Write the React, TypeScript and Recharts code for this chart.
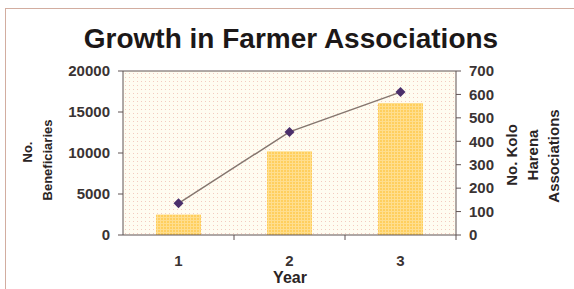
import { ComposedChart, Bar, Line, XAxis, YAxis, CartesianGrid, ReferenceLine } from 'recharts';

const years = ['1', '2', '3'];
const beneficiaries = [2500, 10200, 16100];
const associations = [135, 440, 610];
const leftTicks = [0, 5000, 10000, 15000, 20000];
const rightTicks = [0, 100, 200, 300, 400, 500, 600, 700];

const data = years.map((year, i) => ({
  year,
  beneficiaries: beneficiaries[i],
  associations: associations[i],
}));

const FONT = '"Liberation Sans", Arial, sans-serif';
const TICK_COLOR = '#3a3333';
const AXIS_COLOR = '#5e5252';

const W = 574;
const H = 289;
const LEFT_W = 123;
const RIGHT_W = 118;
const BAND = (W - LEFT_W - RIGHT_W) / years.length;

const YearTick = (props: any) => {
  const { x, y, payload } = props;
  return (
    <g>
      <line x1={x + BAND / 2} x2={x + BAND / 2} y1={y} y2={y + 5} stroke={AXIS_COLOR} />
      <text x={x} y={y + 25} textAnchor="middle" dominantBaseline="central"
        fontFamily={FONT} fontSize={15} fontWeight="bold" fill={TICK_COLOR}>
        {payload.value}
      </text>
    </g>
  );
};

const Diamond = (props: any) => {
  const { cx, cy } = props;
  if (cx == null || cy == null) return null;
  const r = 5;
  return <path d={`M${cx},${cy - r}L${cx + r},${cy}L${cx},${cy + r}L${cx - r},${cy}Z`} fill="#4b2f6b" />;
};

const tickStyle = { fontFamily: FONT, fontSize: 15, fontWeight: 'bold' as const, fill: TICK_COLOR };
const titleStyle = { fontFamily: FONT, fontWeight: 'bold' as const, fill: '#2a2424' };

export default function App() {
  return (
    <div style={{ position: 'absolute', left: 0, top: 0, width: W, height: H, background: '#fff', overflow: 'hidden' }}>
      <div style={{ position: 'absolute', left: 5, top: 8, right: 0, bottom: 0, borderTop: '1px solid #d2ada0', borderLeft: '1px solid #d2ada0' }} />
      <div style={{ position: 'absolute', left: 0, top: 0 }}>
        <ComposedChart width={W} height={H} data={data} margin={{ top: 71, right: 0, bottom: 0, left: 0 }}>
          <defs>
            <pattern id="bgDots" width="4" height="4" patternUnits="userSpaceOnUse">
              <rect width="4" height="4" fill="#fffcf1" />
              <rect x="1" y="1" width="1" height="1" fill="#f3cbc0" />
            </pattern>
            <pattern id="barDots" width="3" height="3" patternUnits="userSpaceOnUse">
              <rect width="3" height="3" fill="#ffcf5e" />
              <rect x="0" y="1" width="3" height="1" fill="#ffde8e" />
              <rect x="1" y="0" width="1" height="3" fill="#ffde8e" />
            </pattern>
          </defs>
          <CartesianGrid horizontal={false} vertical={false} fill="url(#bgDots)" />
          <XAxis dataKey="year" height={54} axisLine={{ stroke: AXIS_COLOR }} tickLine={false}
            tickSize={0} tickMargin={0} tick={<YearTick />} interval={0} />
          <YAxis yAxisId="left" orientation="left" width={LEFT_W} domain={[0, 20000]} ticks={leftTicks}
            axisLine={{ stroke: AXIS_COLOR }} tickLine={{ stroke: AXIS_COLOR }} tickSize={5} tickMargin={8}
            tick={tickStyle} interval={0} />
          <YAxis yAxisId="right" orientation="right" width={RIGHT_W} domain={[0, 700]} ticks={rightTicks}
            axisLine={{ stroke: AXIS_COLOR }} tickLine={{ stroke: AXIS_COLOR }} tickSize={5} tickMargin={8}
            tick={tickStyle} interval={0} />
          <ReferenceLine yAxisId="left" y={20000} stroke={AXIS_COLOR} />
          <Bar yAxisId="left" dataKey="beneficiaries" barSize={45} fill="url(#barDots)" isAnimationActive={false} />
          <Line yAxisId="right" dataKey="associations" type="linear" stroke="#85766f" strokeWidth={1.5}
            dot={<Diamond />} activeDot={false} isAnimationActive={false} />
        </ComposedChart>
      </div>
      <svg width={W} height={H} style={{ position: 'absolute', left: 0, top: 0, pointerEvents: 'none' }}>
        <text x={291} y={48} textAnchor="middle" fontFamily={FONT} fontSize={28} fontWeight="bold" fill="#1c1818">
          Growth in Farmer Associations
        </text>
        <text transform="translate(27,152) rotate(-90)" textAnchor="middle" dominantBaseline="central" fontSize={13} {...titleStyle}>No.</text>
        <text transform="translate(47,160) rotate(-90)" textAnchor="middle" dominantBaseline="central" fontSize={13} {...titleStyle}>Beneficiaries</text>
        <text transform="translate(511,155) rotate(-90)" textAnchor="middle" dominantBaseline="central" fontSize={15} {...titleStyle}>No. Kolo</text>
        <text transform="translate(532,155) rotate(-90)" textAnchor="middle" dominantBaseline="central" fontSize={15} {...titleStyle}>Harena</text>
        <text transform="translate(553,156) rotate(-90)" textAnchor="middle" dominantBaseline="central" fontSize={15} {...titleStyle}>Associations</text>
        <text x={290} y={277} textAnchor="middle" dominantBaseline="central" fontSize={16} {...titleStyle}>Year</text>
      </svg>
    </div>
  );
}
